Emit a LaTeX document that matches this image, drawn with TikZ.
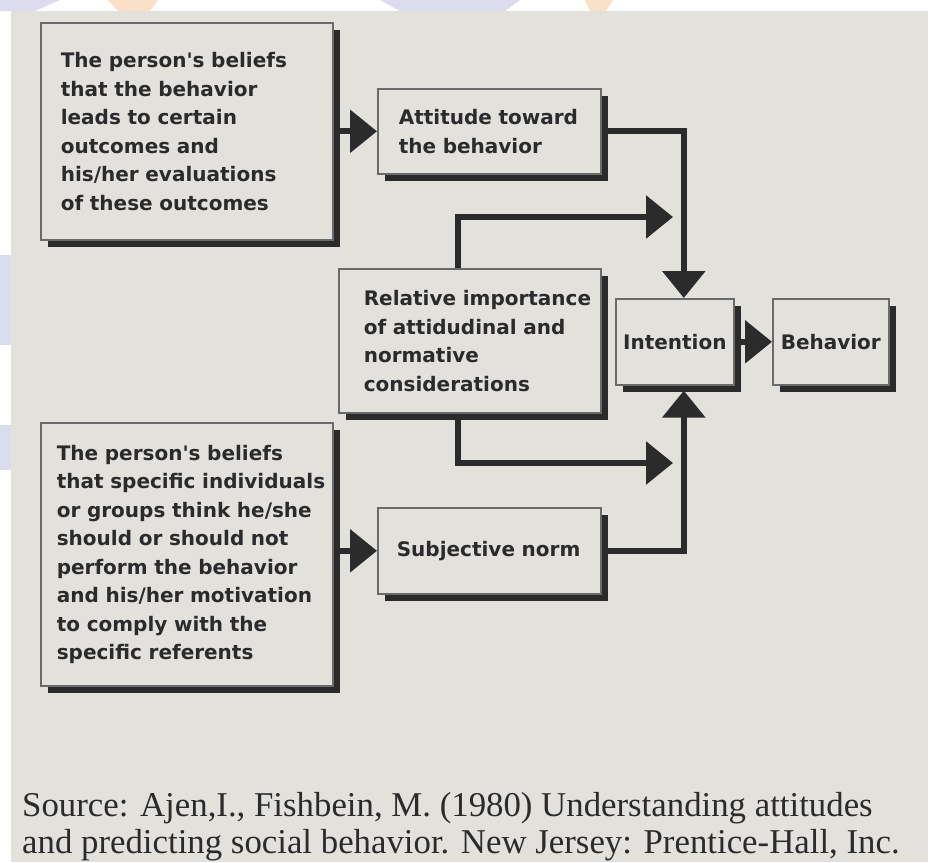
\documentclass[tikz,border=0pt]{standalone}
\usepackage{fontspec}
\newfontfamily\boxfont{DejaVu Sans}
\newfontfamily\srcfont{Liberation Serif}
\usetikzlibrary{arrows.meta, shadows}
\definecolor{panelgray}{HTML}{E3E1DB}
\definecolor{inkgray}{HTML}{2B2B2B}
\definecolor{edgegray}{HTML}{6A6A6A}
\definecolor{wmlilac}{HTML}{DCDCEF}
\definecolor{wmpeach}{HTML}{FBE0C8}
\hyphenpenalty=10000

\begin{document}
\begin{tikzpicture}[x=1pt, y=-1pt,
    panel/.style={draw=edgegray, line width=1.6pt, fill=panelgray, anchor=north west,
      align=left, inner ysep=0pt, text=inkgray,
      font=\boxfont\bfseries\fontsize{20}{28.5}\selectfont,
      drop shadow={shadow xshift=7pt, shadow yshift=-7pt, fill=inkgray, opacity=1}},
    flow/.style={line width=6pt, draw=inkgray, -{Triangle[length=27pt, width=42pt]}}]
            \useasboundingbox (0,0) rectangle (933,862);
            \fill[white] (0,0) rectangle (933,862);
            \fill[wmlilac] (0,0) -- (60,0) -- (35,11) -- (0,11) -- cycle;
            \fill[wmpeach] (108,0) -- (158,0) -- (150,11) -- (118,11) -- cycle;
            \fill[wmlilac] (380,0) -- (520,0) -- (505,11) -- (400,11) -- cycle;
            \fill[wmpeach] (585,0) -- (613,0) -- (606,11) -- (590,11) -- cycle;
            \fill[wmlilac] (0,255) rectangle (11,345);
            \fill[wmlilac] (0,425) rectangle (11,470);
            \fill[panelgray] (11,11) rectangle (928,862);

            \node[panel, text width=252pt, inner xsep=20pt, minimum height=217pt] (belA) at (40,22)
                {The person's beliefs\\that the behavior\\leads to certain\\outcomes and\\his/her evaluations\\of these outcomes};
            \node[panel, text width=181pt, inner xsep=21pt, minimum height=85pt] (attitude) at (377,88)
                {Attitude~toward\\the behavior};
            \node[panel, text width=212pt, inner xsep=25pt, minimum height=144pt] (relative) at (338,268)
                {Relative~importance\\of attidudinal and\\normative\\considerations};
            \node[panel, text width=118pt, inner xsep=0pt, align=center, minimum height=86pt] (intention) at (615,298) {Intention};
            \node[panel, text width=116pt, inner xsep=0pt, align=center, minimum height=86pt] (behavior) at (772,298) {Behavior};
            \node[panel, text width=260pt, inner xsep=16pt, minimum height=263pt] (belB) at (40,422)
                {The person's beliefs\\that~specific~individuals\\or groups think he/she\\should or should not\\perform the behavior\\and his/her motivation\\to comply with the\\specific referents};
            \node[panel, text width=185pt, inner xsep=19pt, minimum height=86pt] (subjective) at (377,507) {Subjective~norm};

            \coordinate (upjoin) at (673,217);
            \coordinate (lowjoin) at (673,463);

            \draw[flow] (belA.east) -- (attitude.west);
            \draw[flow] (attitude.east) -| ([xshift=9pt]intention.north);
            \draw[flow] ([xshift=-12pt]relative.north) |- (upjoin);
            \draw[flow] ([xshift=-12pt]relative.south) |- (lowjoin);
            \draw[flow] (subjective.east) -| ([xshift=9pt, yshift=-5pt]intention.south);
            \draw[flow] (intention.east) -- (behavior.west);
            \draw[flow] (belB.east |- subjective.west) -- (subjective.west);

            \node[anchor=base west, align=left, inner sep=0pt, text=inkgray,
                font=\srcfont\fontsize{34.8}{37}\selectfont] (source) at (22,853)
                {Source: Ajen,I., Fishbein, M. (1980) Understanding attitudes\\and predicting social behavior. New Jersey: Prentice-Hall, Inc.};
        \end{tikzpicture}
\end{document}
